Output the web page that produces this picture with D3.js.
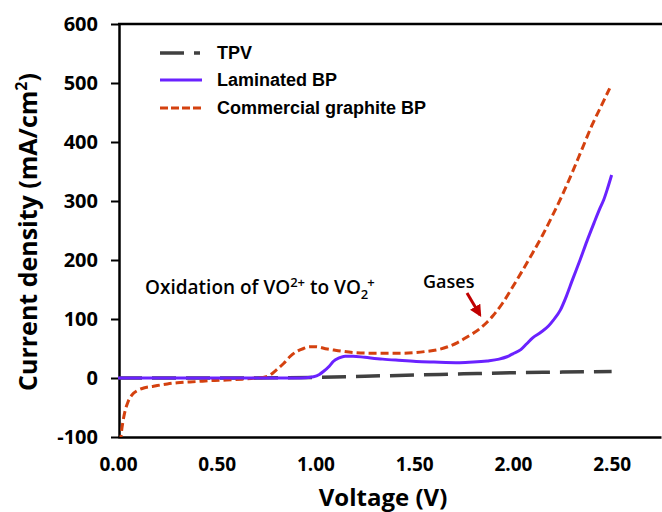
<!DOCTYPE html>
<html><head><meta charset="utf-8">
<script src="https://cdn.jsdelivr.net/npm/d3@7"></script>
<style>body{margin:0;background:#fff}</style>
</head><body>
<svg id="c" width="662" height="512"></svg>
<script>
const xTicks = [0, 0.5, 1.0, 1.5, 2.0, 2.5];
const yTicks = [-100, 0, 100, 200, 300, 400, 500, 600];
const seriesNames = ["TPV", "Laminated BP", "Commercial graphite BP"];

const tpvV = [0, 0.5, 1.0, 1.25, 1.5, 1.75, 2.0, 2.25, 2.5];
const tpvJ = [0, 0, 1, 3, 5, 7, 9, 10, 11];

const lamV = [0, 0.5, 0.9, 0.95, 0.99, 1.02, 1.04, 1.07, 1.09, 1.12, 1.15, 1.19, 1.25, 1.34, 1.42, 1.51, 1.6, 1.73, 1.8, 1.87, 1.93, 1.97, 2.0, 2.04, 2.07, 2.1, 2.14, 2.18, 2.205, 2.24, 2.27, 2.3, 2.34, 2.375, 2.41, 2.44, 2.46, 2.48, 2.5];
const lamJ = [0, 0, 0, 0.5, 2, 6, 11, 20, 28, 34, 37, 37, 35, 32, 30, 28, 27, 26, 27, 29, 32, 36, 41, 48, 58, 68, 77, 88, 98, 115, 138, 165, 200, 232, 262, 287, 302, 322, 344];

const comV = [0.012, 0.018, 0.025, 0.035, 0.05, 0.07, 0.1, 0.13, 0.18, 0.25, 0.3, 0.4, 0.47, 0.55, 0.63, 0.7, 0.735, 0.77, 0.8, 0.84, 0.87, 0.9, 0.94, 0.97, 1.0, 1.06, 1.1, 1.2, 1.3, 1.43, 1.5, 1.56, 1.62, 1.67, 1.72, 1.77, 1.83, 1.87, 1.9, 1.95, 2.0, 2.05, 2.1, 2.15, 2.2, 2.25, 2.3, 2.35, 2.4, 2.45, 2.49];
const comJ = [-110, -90, -74, -57, -41, -29, -21, -17, -14, -10, -8, -6, -4.5, -3.5, -2, 0, 1, 5, 13, 25, 36, 44, 50, 53, 53, 49, 47, 43, 42, 42, 43, 45, 48, 53, 60, 70, 83, 95, 106, 128, 155, 183, 212, 242, 275, 310, 348, 388, 428, 463, 491];

const svg = d3.select("#c");
const x = d3.scaleLinear().domain([0, 2.75]).range([118, 661]);
const y = d3.scaleLinear().domain([-100, 600]).range([437, 24]);

svg.append("defs").append("clipPath").attr("id", "clip")
  .append("rect").attr("x", 118).attr("y", 24).attr("width", 544).attr("height", 413);

// y axis
const ya = svg.append("g").attr("transform", "translate(119,0)")
  .call(d3.axisLeft(y).tickValues(yTicks).tickFormat(d => String(d)).tickSize(8).tickSizeOuter(0).tickPadding(13));
ya.select(".domain").attr("stroke", "#000").attr("stroke-width", 2.5);
ya.selectAll(".tick line").attr("stroke", "#000").attr("stroke-width", 2);
ya.selectAll("text").attr("font-family", "'Open Sans', sans-serif").attr("font-weight", 700).attr("font-size", 20).attr("fill", "#000");

// x axis
const xa = svg.append("g").attr("transform", "translate(0,437)")
  .call(d3.axisBottom(x).tickValues(xTicks).tickFormat(d3.format(".2f")).tickSize(0).tickSizeOuter(0).tickPadding(21));
xa.select(".domain").attr("stroke", "#000").attr("stroke-width", 2.5);
xa.selectAll("text").attr("font-family", "'Open Sans', sans-serif").attr("font-weight", 700).attr("font-size", 19).attr("fill", "#000");

// top border
svg.append("line").attr("x1", x(0)).attr("x2", 662).attr("y1", y(600)).attr("y2", y(600))
  .attr("stroke", "#000").attr("stroke-width", 2.5);

const line = d3.line().x(d => x(d[0])).y(d => y(d[1])).curve(d3.curveMonotoneX);
const plot = svg.append("g").attr("clip-path", "url(#clip)");

plot.append("path").datum(d3.zip(tpvV, tpvJ)).attr("d", line)
  .attr("fill", "none").attr("stroke", "#404040").attr("stroke-width", 3.5).attr("stroke-dasharray", "24,10");
plot.append("path").datum(d3.zip(comV, comJ)).attr("d", line)
  .attr("fill", "none").attr("stroke", "#d4410f").attr("stroke-width", 3).attr("stroke-dasharray", "8,4");
plot.append("path").datum(d3.zip(lamV, lamJ)).attr("d", line)
  .attr("fill", "none").attr("stroke", "#6a22ff").attr("stroke-width", 3);

// legend
const legY = [53, 80, 108];
const legStyle = [
  {stroke: "#404040", w: 3.5, dash: "24,10", x2: 200},
  {stroke: "#6a22ff", w: 3, dash: null, x2: 202},
  {stroke: "#d4410f", w: 3, dash: "8,3", x2: 202}
];
seriesNames.forEach((n, i) => {
  const s = legStyle[i];
  svg.append("line").attr("x1", 160).attr("x2", s.x2).attr("y1", legY[i]).attr("y2", legY[i])
    .attr("stroke", s.stroke).attr("stroke-width", s.w).attr("stroke-dasharray", s.dash);
  svg.append("text").attr("x", 217).attr("y", legY[i] + 6).text(n)
    .attr("font-family", "'Liberation Sans', Arial, sans-serif").attr("font-weight", 700).attr("font-size", 18);
});

// annotations
const ann = svg.append("text").attr("x", 145).attr("y", 294)
  .attr("font-family", "'Open Sans', sans-serif").attr("font-weight", 600).attr("font-size", 19);
ann.append("tspan").text("Oxidation of VO");
ann.append("tspan").attr("font-size", 13).attr("dy", -7).text("2+");
ann.append("tspan").attr("dy", 7).text(" to VO");
ann.append("tspan").attr("font-size", 13).attr("dy", 5).text("2");
ann.append("tspan").attr("font-size", 13).attr("dx", -1).attr("dy", -12).text("+");

svg.append("text").attr("x", 423).attr("y", 288).text("Gases")
  .attr("font-family", "'Open Sans', sans-serif").attr("font-weight", 600).attr("font-size", 18);

svg.append("defs").append("marker").attr("id", "ah").attr("viewBox", "0 0 10 10")
  .attr("refX", 8).attr("refY", 5).attr("markerWidth", 4).attr("markerHeight", 4).attr("orient", "auto")
  .append("path").attr("d", "M0,0L10,5L0,10z").attr("fill", "#c00000");
svg.append("line").attr("x1", 467).attr("y1", 293).attr("x2", 480).attr("y2", 315)
  .attr("stroke", "#c00000").attr("stroke-width", 3).attr("marker-end", "url(#ah)");

// axis titles
svg.append("text").attr("text-anchor", "middle").attr("x", 383).attr("y", 506).text("Voltage (V)")
  .attr("font-family", "'Open Sans', sans-serif").attr("font-weight", 700).attr("font-size", 24);
const yt = svg.append("text").attr("text-anchor", "middle").attr("transform", "translate(37,232) rotate(-90)")
  .attr("font-family", "'Open Sans', sans-serif").attr("font-weight", 700).attr("font-size", 25);
yt.append("tspan").text("Current density (mA/cm");
yt.append("tspan").attr("font-size", 16).attr("dy", -10).text("2");
yt.append("tspan").attr("dy", 10).text(")");
</script>
</body></html>
